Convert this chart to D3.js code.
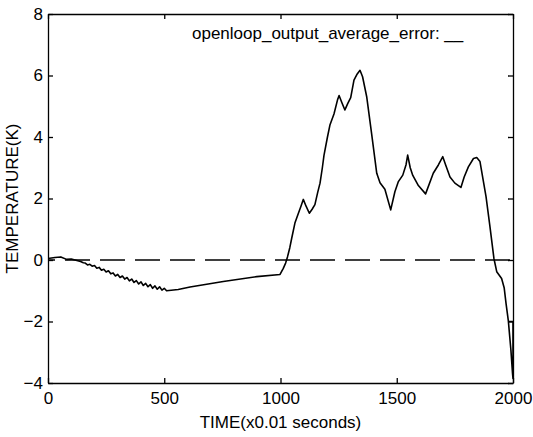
<!DOCTYPE html>
<html>
<head>
<meta charset="utf-8">
<script src="https://cdn.jsdelivr.net/npm/d3@7"></script>
<style>
  body { margin: 0; background: #fff; }
  svg text { font-family: "Liberation Sans", Arial, sans-serif; fill: #000; }
</style>
</head>
<body>
<svg id="chart"></svg>
<script>
// time axis (x0.01 s) and the error
const times = [
  0, 30, 55, 80, 100, 120, 140, 152,
  160, 170, 180, 190, 200, 210, 220, 230, 240, 250, 260, 270, 280, 290, 300,
  310, 320, 330, 340, 350, 360, 370, 380, 390, 400, 410, 420, 430, 440, 450,
  460, 470, 480, 490, 500, 510,
  560, 611, 650, 754, 898, 998,
  1012, 1022, 1030, 1040, 1048, 1062, 1077, 1088, 1098, 1110, 1124, 1136, 1148,
  1160, 1170, 1180, 1187, 1202, 1213, 1230, 1245, 1252, 1265, 1277, 1290, 1302,
  1316, 1330, 1342, 1353, 1371, 1392, 1414, 1428, 1449, 1474, 1492, 1507, 1526,
  1540, 1547, 1558, 1569, 1593, 1624, 1657, 1679, 1698, 1710, 1729, 1750, 1776,
  1790, 1808, 1830, 1844, 1858, 1884, 1901, 1918, 1930, 1951, 1962, 1970, 1980,
  1991, 1998, 2000, 2000, 1980
];
const errors = [
  0.05, 0.08, 0.10, 0.02, 0.03, -0.01, -0.05, -0.09,
  -0.10, -0.16, -0.14, -0.20, -0.18, -0.27, -0.24, -0.33, -0.30, -0.39, -0.35, -0.45, -0.42, -0.52, -0.47,
  -0.57, -0.52, -0.62, -0.57, -0.68, -0.62, -0.73, -0.67, -0.78, -0.71, -0.83, -0.76, -0.87, -0.80, -0.92,
  -0.84, -0.95, -0.87, -0.98, -0.92, -1.00,
  -0.96, -0.88, -0.83, -0.70, -0.54, -0.47,
  -0.27, -0.10, 0.10, 0.40, 0.70, 1.20, 1.52, 1.75, 1.97, 1.75, 1.52, 1.65, 1.80,
  2.20, 2.50, 3.00, 3.40, 4.00, 4.40, 4.75, 5.20, 5.35, 5.10, 4.88, 5.10, 5.28,
  5.85, 6.05, 6.17, 5.96, 5.30, 4.10, 2.82, 2.51, 2.30, 1.63, 2.22, 2.55, 2.76,
  3.10, 3.41, 3.00, 2.75, 2.42, 2.15, 2.82, 3.09, 3.36, 3.10, 2.70, 2.50, 2.36,
  2.70, 3.03, 3.30, 3.33, 3.20, 2.06, 1.08, 0.05, -0.38, -0.60, -0.90, -1.41, -1.98,
  -2.93, -3.70, -3.85, -2.00, -2.00
];
const xTicks = [0, 500, 1000, 1500, 2000];
const yTicks = [-4, -2, 0, 2, 4, 6, 8];
const legendLabel = "openloop_output_average_error: __";
const xLabel = "TIME(x0.01 seconds)";
const yLabel = "TEMPERATURE(K)";

const width = 533, height = 437;
const m = { left: 48, right: 513, top: 14, bottom: 383 };

const svg = d3.select("#chart").attr("width", width).attr("height", height);

const x = d3.scaleLinear().domain([0, 2000]).range([m.left, m.right]);
const y = d3.scaleLinear().domain([-4, 8]).range([m.bottom, m.top]);

const fontSize = "17px";

function styleAxis(g) {
  g.selectAll("path, line").attr("stroke", "#000").attr("stroke-width", 1.3);
  g.selectAll("text").style("font-size", fontSize).attr("fill", "#000");
}

svg.append("g")
  .attr("transform", `translate(0,${m.bottom})`)
  .call(d3.axisBottom(x).tickValues(xTicks).tickFormat(d3.format("d"))
    .tickSizeInner(-5).tickSizeOuter(0).tickPadding(9))
  .call(styleAxis);

svg.append("g")
  .attr("transform", `translate(0,${m.top})`)
  .call(d3.axisTop(x).tickValues(xTicks).tickSizeInner(-5).tickSizeOuter(0).tickFormat(""))
  .call(styleAxis);

svg.append("g")
  .attr("transform", `translate(${m.left},0)`)
  .call(d3.axisLeft(y).tickValues(yTicks).tickFormat(d3.format("d"))
    .tickSizeInner(-5).tickSizeOuter(0).tickPadding(5))
  .call(styleAxis);

svg.append("g")
  .attr("transform", `translate(${m.right},0)`)
  .call(d3.axisRight(y).tickValues(yTicks).tickSizeInner(-5).tickSizeOuter(0).tickFormat(""))
  .call(styleAxis);

// zero reference, dashed
svg.append("line")
  .attr("x1", x(0)).attr("x2", x(2000))
  .attr("y1", y(0)).attr("y2", y(0))
  .attr("stroke", "#000")
  .attr("stroke-width", 1.5)
  .attr("stroke-dasharray", "25,10")
  .attr("stroke-dashoffset", 18);

const points = times.map((t, i) => [t, errors[i]]);
const line = d3.line().x(d => x(d[0])).y(d => y(d[1]));

svg.append("path")
  .datum(points)
  .attr("d", line)
  .attr("fill", "none")
  .attr("stroke", "#000")
  .attr("stroke-width", 1.6)
  .attr("stroke-linejoin", "round");

svg.append("text")
  .attr("x", 192).attr("y", 39)
  .style("font-size", fontSize)
  .text(legendLabel);

svg.append("text")
  .attr("x", (m.left + m.right) / 2).attr("y", 428)
  .attr("text-anchor", "middle")
  .style("font-size", fontSize)
  .text(xLabel);

svg.append("text")
  .attr("transform", `translate(18,${(m.top + m.bottom) / 2}) rotate(-90)`)
  .attr("text-anchor", "middle")
  .style("font-size", fontSize)
  .text(yLabel);
</script>
</body>
</html>
